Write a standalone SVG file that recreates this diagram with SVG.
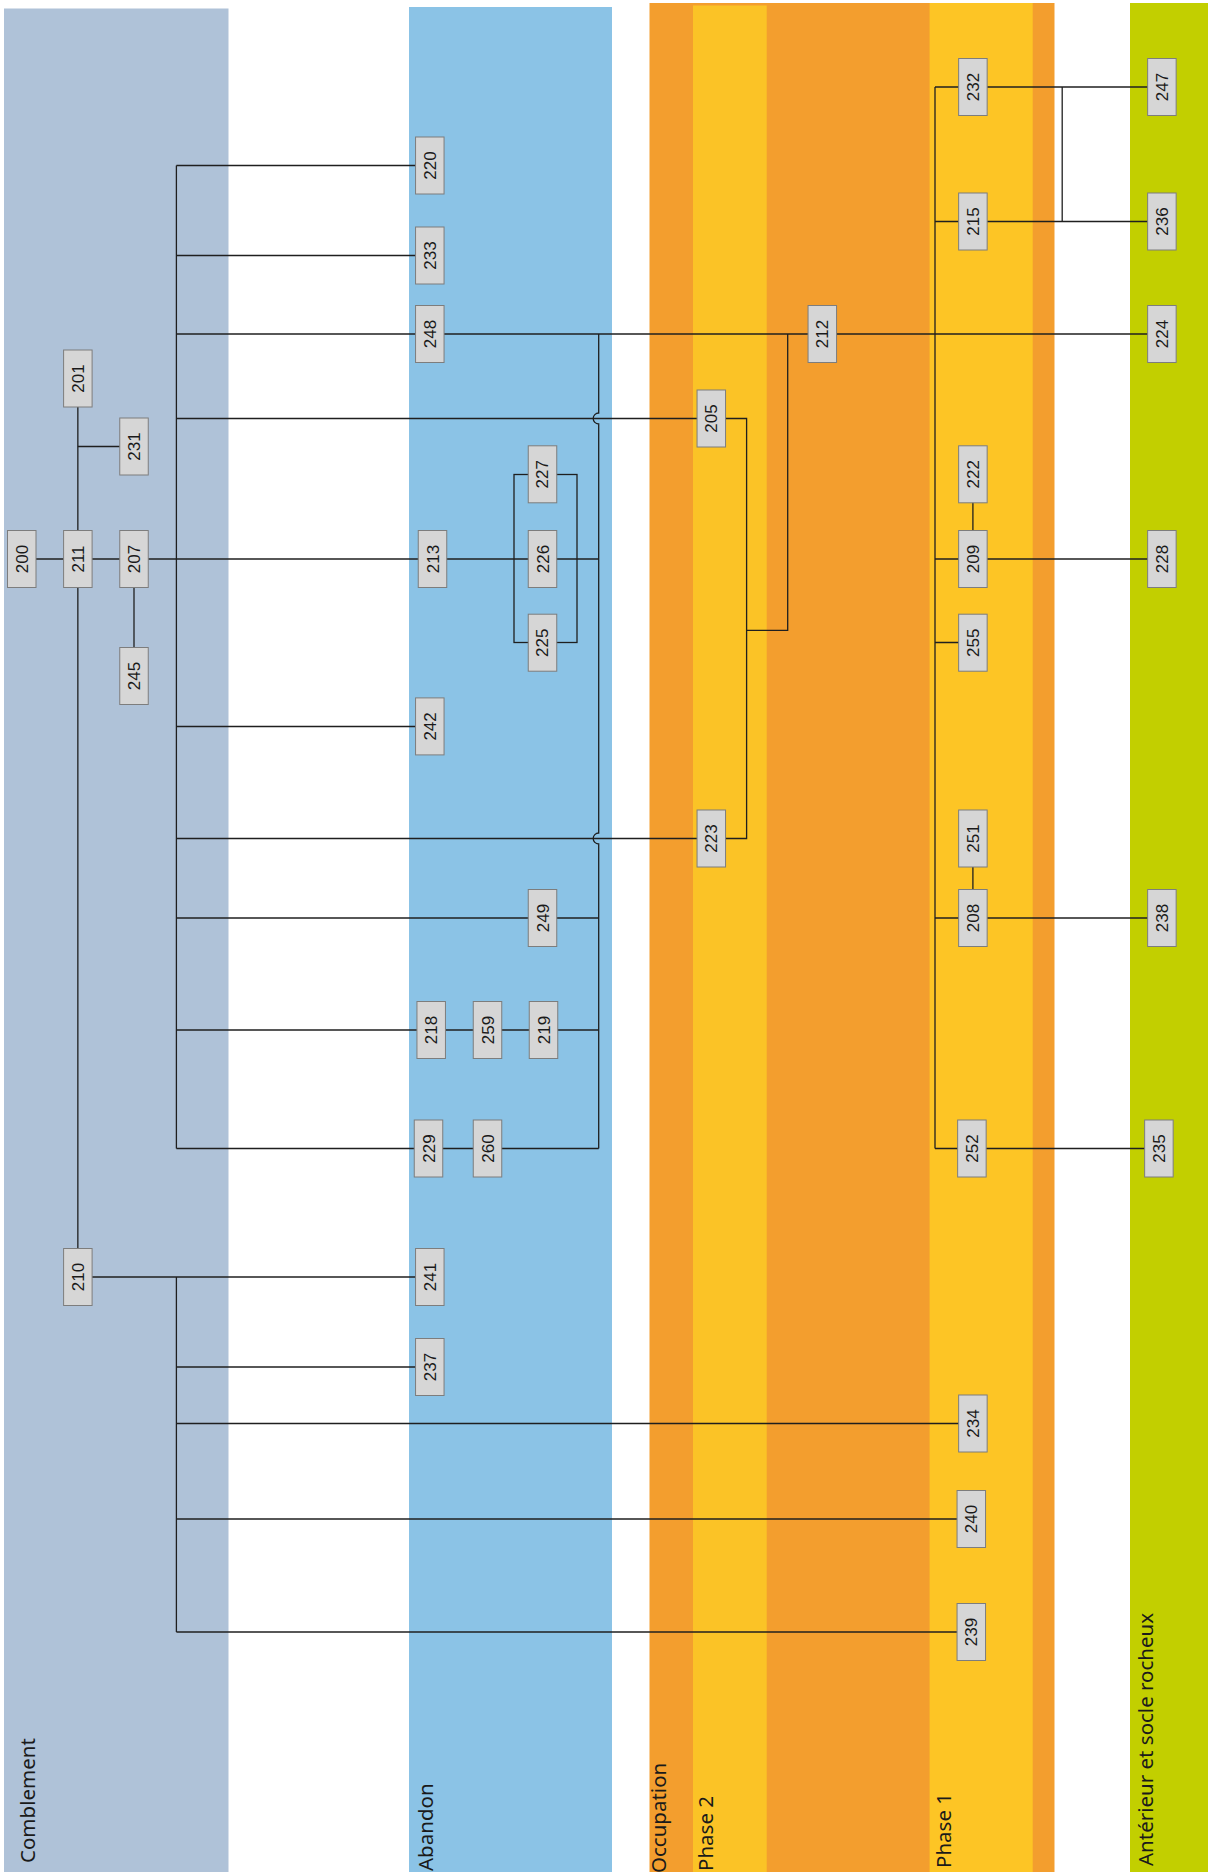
<svg xmlns="http://www.w3.org/2000/svg" width="1208" height="1872" viewBox="0 0 1208 1872">
<style>
.band-label{font-family:"Noto Sans","Open Sans",sans-serif;font-size:20.5px;fill:#1a1a1a}
.node rect{fill:#d6d6d6;stroke:#7d7d7d;stroke-width:1}
.node text{font-family:"Liberation Sans",Arial,sans-serif;font-size:17px;fill:#1a1a1a;text-anchor:middle}
.conn path,.conn rect{fill:none;stroke:#1f1f1f;stroke-width:1.3}
</style>
<rect width="1208" height="1872" fill="#ffffff"/>
<g id="bands">
<rect x="4" y="8.5" width="224.5" height="1864" fill="#afc2d8"/>
<rect x="409" y="7" width="203" height="1865" fill="#8bc3e6"/>
<rect x="649.5" y="3" width="405" height="1869" fill="#f39e2e"/>
<rect x="693" y="5.5" width="73.7" height="1867" fill="#fbc326"/>
<rect x="929.6" y="3" width="103.1" height="1869" fill="#fdc525"/>
<rect x="1130" y="3" width="78" height="1869" fill="#c2cf00"/>
<text class="band-label" transform="translate(34.5,1863) rotate(-90)">Comblement</text>
<text class="band-label" transform="translate(433,1871) rotate(-90)">Abandon</text>
<text class="band-label" transform="translate(666,1873) rotate(-90)">Occupation</text>
<text class="band-label" transform="translate(713,1871) rotate(-90)">Phase 2</text>
<text class="band-label" transform="translate(951,1868) rotate(-90)">Phase 1</text>
<text class="band-label" transform="translate(1152.5,1866) rotate(-90)">Antérieur et socle rocheux</text>
</g>
<g id="connectors" class="conn">
<path d="M21.75 559 H598.7"/>
<path d="M77.85 378.5 V1277"/>
<path d="M77.85 446.5 H134"/>
<path d="M134 559 V676"/>
<path d="M176.4 165.5 V1148.5"/>
<path d="M176.4 165.5 H429.8"/>
<path d="M176.4 255.5 H429.8"/>
<path d="M176.4 334 H1161.9"/>
<path d="M176.4 418.5 H711.3"/>
<path d="M176.4 726.5 H429.8"/>
<path d="M176.4 838.5 H711.3"/>
<path d="M176.4 918 H598.7"/>
<path d="M176.4 1030 H598.7"/>
<path d="M176.4 1148.5 H598.7"/>
<path d="M598.7 334 V413 A5.5 5.5 0 0 0 598.7 424 V833 A5.5 5.5 0 0 0 598.7 844 V1148.5"/>
<rect x="514" y="474.5" width="63" height="168"/>
<path d="M787.7 334 V630.4 H746.6"/>
<path d="M711.3 418.5 H746.6 V838.5 H711.3"/>
<path d="M935 87 V1148.5"/>
<path d="M935 87 H1161.9"/>
<path d="M935 221.5 H1161.9"/>
<path d="M1062.2 87 V221.5"/>
<path d="M935 559 H1161.9"/>
<path d="M935 642.5 H972.9"/>
<path d="M935 918 H1161.9"/>
<path d="M935 1148.5 H1158.9"/>
<path d="M972.9 474.3 V559"/>
<path d="M972.9 838.5 V918"/>
<path d="M77.85 1277 H429.8"/>
<path d="M176.4 1277 V1632"/>
<path d="M176.4 1367 H429.8"/>
<path d="M176.4 1423.5 H972.9"/>
<path d="M176.4 1519 H971.3"/>
<path d="M176.4 1632 H971.3"/>
</g>
<g id="n200" class="node"><rect x="7.5" y="530.5" width="28.5" height="57"/><text x="21.75" y="559" dy="6" transform="rotate(-90 21.75 559)">200</text></g>
<g id="n201" class="node"><rect x="63.6" y="350" width="28.5" height="57"/><text x="77.85" y="378.5" dy="6" transform="rotate(-90 77.85 378.5)">201</text></g>
<g id="n211" class="node"><rect x="63.6" y="530.5" width="28.5" height="57"/><text x="77.85" y="559" dy="6" transform="rotate(-90 77.85 559)">211</text></g>
<g id="n210" class="node"><rect x="63.6" y="1248.5" width="28.5" height="57"/><text x="77.85" y="1277" dy="6" transform="rotate(-90 77.85 1277)">210</text></g>
<g id="n231" class="node"><rect x="119.75" y="418" width="28.5" height="57"/><text x="134" y="446.5" dy="6" transform="rotate(-90 134 446.5)">231</text></g>
<g id="n207" class="node"><rect x="119.75" y="530.5" width="28.5" height="57"/><text x="134" y="559" dy="6" transform="rotate(-90 134 559)">207</text></g>
<g id="n245" class="node"><rect x="119.75" y="647.5" width="28.5" height="57"/><text x="134" y="676" dy="6" transform="rotate(-90 134 676)">245</text></g>
<g id="n220" class="node"><rect x="415.55" y="137" width="28.5" height="57"/><text x="429.8" y="165.5" dy="6" transform="rotate(-90 429.8 165.5)">220</text></g>
<g id="n233" class="node"><rect x="415.55" y="227" width="28.5" height="57"/><text x="429.8" y="255.5" dy="6" transform="rotate(-90 429.8 255.5)">233</text></g>
<g id="n248" class="node"><rect x="415.55" y="305.5" width="28.5" height="57"/><text x="429.8" y="334" dy="6" transform="rotate(-90 429.8 334)">248</text></g>
<g id="n242" class="node"><rect x="415.55" y="697.9" width="28.5" height="57"/><text x="429.8" y="726.4" dy="6" transform="rotate(-90 429.8 726.4)">242</text></g>
<g id="n241" class="node"><rect x="415.55" y="1248.5" width="28.5" height="57"/><text x="429.8" y="1277" dy="6" transform="rotate(-90 429.8 1277)">241</text></g>
<g id="n237" class="node"><rect x="415.55" y="1338.5" width="28.5" height="57"/><text x="429.8" y="1367" dy="6" transform="rotate(-90 429.8 1367)">237</text></g>
<g id="n213" class="node"><rect x="418.25" y="530.5" width="28.5" height="57"/><text x="432.5" y="559" dy="6" transform="rotate(-90 432.5 559)">213</text></g>
<g id="n218" class="node"><rect x="416.95" y="1001.5" width="28.5" height="57"/><text x="431.2" y="1030" dy="6" transform="rotate(-90 431.2 1030)">218</text></g>
<g id="n229" class="node"><rect x="414.25" y="1120" width="28.5" height="57"/><text x="428.5" y="1148.5" dy="6" transform="rotate(-90 428.5 1148.5)">229</text></g>
<g id="n259" class="node"><rect x="473.25" y="1001.5" width="28.5" height="57"/><text x="487.5" y="1030" dy="6" transform="rotate(-90 487.5 1030)">259</text></g>
<g id="n260" class="node"><rect x="473.25" y="1120" width="28.5" height="57"/><text x="487.5" y="1148.5" dy="6" transform="rotate(-90 487.5 1148.5)">260</text></g>
<g id="n227" class="node"><rect x="528.25" y="445.8" width="28.5" height="57"/><text x="542.5" y="474.3" dy="6" transform="rotate(-90 542.5 474.3)">227</text></g>
<g id="n226" class="node"><rect x="528.25" y="530.5" width="28.5" height="57"/><text x="542.5" y="559" dy="6" transform="rotate(-90 542.5 559)">226</text></g>
<g id="n225" class="node"><rect x="528.25" y="614.2" width="28.5" height="57"/><text x="542.5" y="642.7" dy="6" transform="rotate(-90 542.5 642.7)">225</text></g>
<g id="n249" class="node"><rect x="528.25" y="889.5" width="28.5" height="57"/><text x="542.5" y="918" dy="6" transform="rotate(-90 542.5 918)">249</text></g>
<g id="n219" class="node"><rect x="529.25" y="1001.5" width="28.5" height="57"/><text x="543.5" y="1030" dy="6" transform="rotate(-90 543.5 1030)">219</text></g>
<g id="n205" class="node"><rect x="697.05" y="390" width="28.5" height="57"/><text x="711.3" y="418.5" dy="6" transform="rotate(-90 711.3 418.5)">205</text></g>
<g id="n223" class="node"><rect x="697.05" y="810" width="28.5" height="57"/><text x="711.3" y="838.5" dy="6" transform="rotate(-90 711.3 838.5)">223</text></g>
<g id="n212" class="node"><rect x="808.05" y="305.5" width="28.5" height="57"/><text x="822.3" y="334" dy="6" transform="rotate(-90 822.3 334)">212</text></g>
<g id="n232" class="node"><rect x="958.65" y="58.5" width="28.5" height="57"/><text x="972.9" y="87" dy="6" transform="rotate(-90 972.9 87)">232</text></g>
<g id="n215" class="node"><rect x="958.65" y="193" width="28.5" height="57"/><text x="972.9" y="221.5" dy="6" transform="rotate(-90 972.9 221.5)">215</text></g>
<g id="n222" class="node"><rect x="958.65" y="445.8" width="28.5" height="57"/><text x="972.9" y="474.3" dy="6" transform="rotate(-90 972.9 474.3)">222</text></g>
<g id="n209" class="node"><rect x="958.65" y="530.5" width="28.5" height="57"/><text x="972.9" y="559" dy="6" transform="rotate(-90 972.9 559)">209</text></g>
<g id="n255" class="node"><rect x="958.65" y="614.2" width="28.5" height="57"/><text x="972.9" y="642.7" dy="6" transform="rotate(-90 972.9 642.7)">255</text></g>
<g id="n251" class="node"><rect x="958.65" y="810" width="28.5" height="57"/><text x="972.9" y="838.5" dy="6" transform="rotate(-90 972.9 838.5)">251</text></g>
<g id="n208" class="node"><rect x="958.65" y="889.5" width="28.5" height="57"/><text x="972.9" y="918" dy="6" transform="rotate(-90 972.9 918)">208</text></g>
<g id="n252" class="node"><rect x="957.65" y="1120" width="28.5" height="57"/><text x="971.9" y="1148.5" dy="6" transform="rotate(-90 971.9 1148.5)">252</text></g>
<g id="n234" class="node"><rect x="958.65" y="1395" width="28.5" height="57"/><text x="972.9" y="1423.5" dy="6" transform="rotate(-90 972.9 1423.5)">234</text></g>
<g id="n240" class="node"><rect x="957.05" y="1490.5" width="28.5" height="57"/><text x="971.3" y="1519" dy="6" transform="rotate(-90 971.3 1519)">240</text></g>
<g id="n239" class="node"><rect x="957.05" y="1603.5" width="28.5" height="57"/><text x="971.3" y="1632" dy="6" transform="rotate(-90 971.3 1632)">239</text></g>
<g id="n247" class="node"><rect x="1147.65" y="58.5" width="28.5" height="57"/><text x="1161.9" y="87" dy="6" transform="rotate(-90 1161.9 87)">247</text></g>
<g id="n236" class="node"><rect x="1147.65" y="193" width="28.5" height="57"/><text x="1161.9" y="221.5" dy="6" transform="rotate(-90 1161.9 221.5)">236</text></g>
<g id="n224" class="node"><rect x="1147.65" y="305.5" width="28.5" height="57"/><text x="1161.9" y="334" dy="6" transform="rotate(-90 1161.9 334)">224</text></g>
<g id="n228" class="node"><rect x="1147.65" y="530.5" width="28.5" height="57"/><text x="1161.9" y="559" dy="6" transform="rotate(-90 1161.9 559)">228</text></g>
<g id="n238" class="node"><rect x="1147.65" y="889.5" width="28.5" height="57"/><text x="1161.9" y="918" dy="6" transform="rotate(-90 1161.9 918)">238</text></g>
<g id="n235" class="node"><rect x="1144.65" y="1120" width="28.5" height="57"/><text x="1158.9" y="1148.5" dy="6" transform="rotate(-90 1158.9 1148.5)">235</text></g>
</svg>
